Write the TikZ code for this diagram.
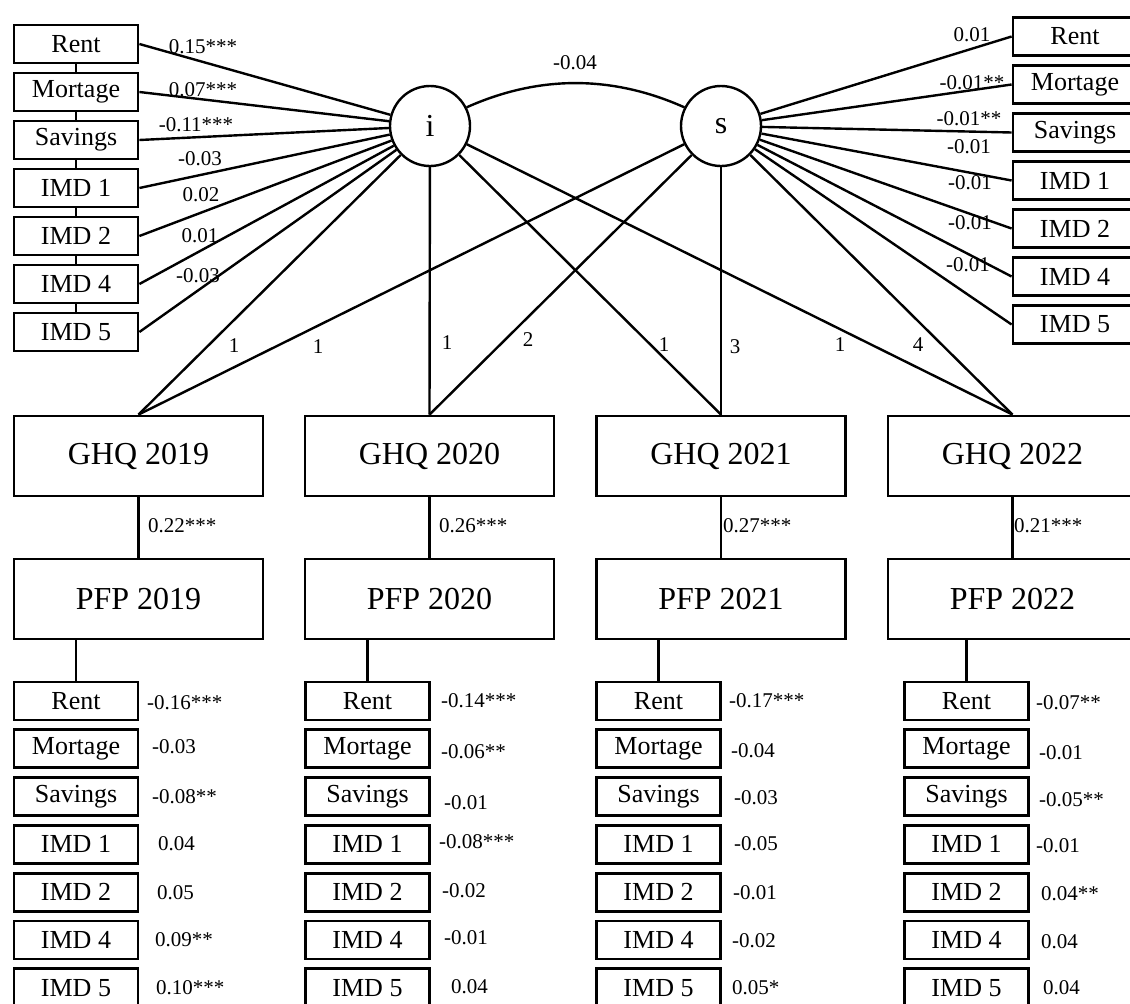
\documentclass[tikz,border=0pt]{standalone}
\usepackage{fontspec}
\setmainfont{Liberation Serif}
\tikzset{
    bigbox/.style = {draw, line width=2.8pt, minimum width=249pt, minimum height=80pt, inner sep=0pt, font=\fontsize{32}{36}\selectfont},
    smallbox/.style = {draw, line width=2.8pt, minimum width=124pt, minimum height=38pt, inner sep=0pt, font=\fontsize{26}{30}\selectfont},
    latent/.style = {draw, circle, line width=2.4pt, minimum size=80pt, inner sep=0pt, font=\fontsize{32}{36}\selectfont},
    coef/.style = {inner sep=0pt, font=\fontsize{21}{24}\selectfont},
    link/.style = {line width=2.4pt}
}
\begin{document}
\begin{tikzpicture}[x=1pt, y=-1pt]
                    \useasboundingbox (0,0) rectangle (1130,1004);
                    \node[latent] (i) at (430,126) {i};
                    \node[latent] (s) at (721,126) {s};
                    \draw[link] (i.27) .. controls (539,75) and (612,75) .. (s.153);
                    \node[coef] (cov) at (575,63) {-0.04};
                    \foreach \t [count=\k] in {Rent,Mortage,Savings,IMD 1,IMD 2,IMD 4,IMD 5}
                        {
                        \node[smallbox] (l\k) at (76,{44+48*(\k-1)}) {\t};
                        \node[smallbox] (r\k) at (1075,{36.5+48*(\k-1)}) {\t};
                        \draw[link] (i) -- (l\k.east);
                        \draw[link] (s) -- (r\k.west);
                        }
                    \foreach \k [count=\n from 2] in {1,...,6}
                        {\draw[link] (l\k.south) -- (l\n.north);}
                    \foreach \x/\y/\t [count=\k] in {203/47/0.15***, 203/90/0.07***, 196/125/-0.11***, 200/159/-0.03, 201/195/0.02, 200/236/0.01, 198/276/-0.03}
                        {\node[coef] (lc\k) at (\x,\y) {\t};}
                    \foreach \x/\y/\t [count=\k] in {972/35/0.01, 972/83/-0.01**, 969/119/-0.01**, 969/147/-0.01, 970/183/-0.01, 970/223/-0.01, 968/265/-0.01}
                        {\node[coef] (rc\k) at (\x,\y) {\t};}
                    \foreach \x/\yr [count=\c] in {138.5/2019, 429.5/2020, 721/2021, 1012.5/2022}
                        {
                        \node[bigbox] (g\c) at (\x,456) {GHQ \yr};
                        \node[bigbox] (p\c) at (\x,599) {PFP \yr};
                        \draw[link] (i) -- (g\c.north);
                        \draw[link] (s) -- (g\c.north);
                        \draw[line width=2.2pt] (g\c) -- (p\c);
                        }
                    \foreach \x/\t [count=\k] in {148/0.22***, 439/0.26***, 723/0.27***, 1014/0.21***}
                        {\node[coef, anchor=west] (gp\k) at (\x,526) {\t};}
                    \foreach \x/\y/\t [count=\k] in {234/346/1, 318/347/1, 447/343/1, 528/340/2, 664/345/1, 735/347/3, 840/345/1, 918/345/4}
                        {\node[coef] (ld\k) at (\x,\y) {\t};}
                    \foreach \x [count=\c] in {76,367.5,658.5,966.5}
                        {
                        \foreach \t [count=\k] in {Rent,Mortage,Savings,IMD 1,IMD 2,IMD 4,IMD 5}
                            {\node[smallbox] (b\c\k) at (\x,{701+47.8*(\k-1)}) {\t};}
                        \draw[link] (b\c1.north |- p\c.south) -- (b\c1.north);
                        }
                    \foreach \x/\y/\t [count=\k] in {147/703/-0.16***, 152/747/-0.03, 152/797/-0.08**, 158/844/0.04, 157/893/0.05, 155/940/0.09**, 156/988/0.10***,
                                                     441/701/-0.14***, 441/752/-0.06**, 444/803/-0.01, 439/842/-0.08***, 442/891/-0.02, 444/938/-0.01, 451/987/0.04,
                                                     729/701/-0.17***, 731/751/-0.04, 734/798/-0.03, 734/844/-0.05, 733/893/-0.01, 732/941/-0.02, 732/988/0.05*,
                                                     1036/703/-0.07**, 1039/753/-0.01, 1039/800/-0.05**, 1036/846/-0.01, 1041/894/0.04**, 1041/942/0.04, 1043/988/0.04}
                        {\node[coef, anchor=west] (bc\k) at (\x,\y) {\t};}
                \end{tikzpicture}
\end{document}
